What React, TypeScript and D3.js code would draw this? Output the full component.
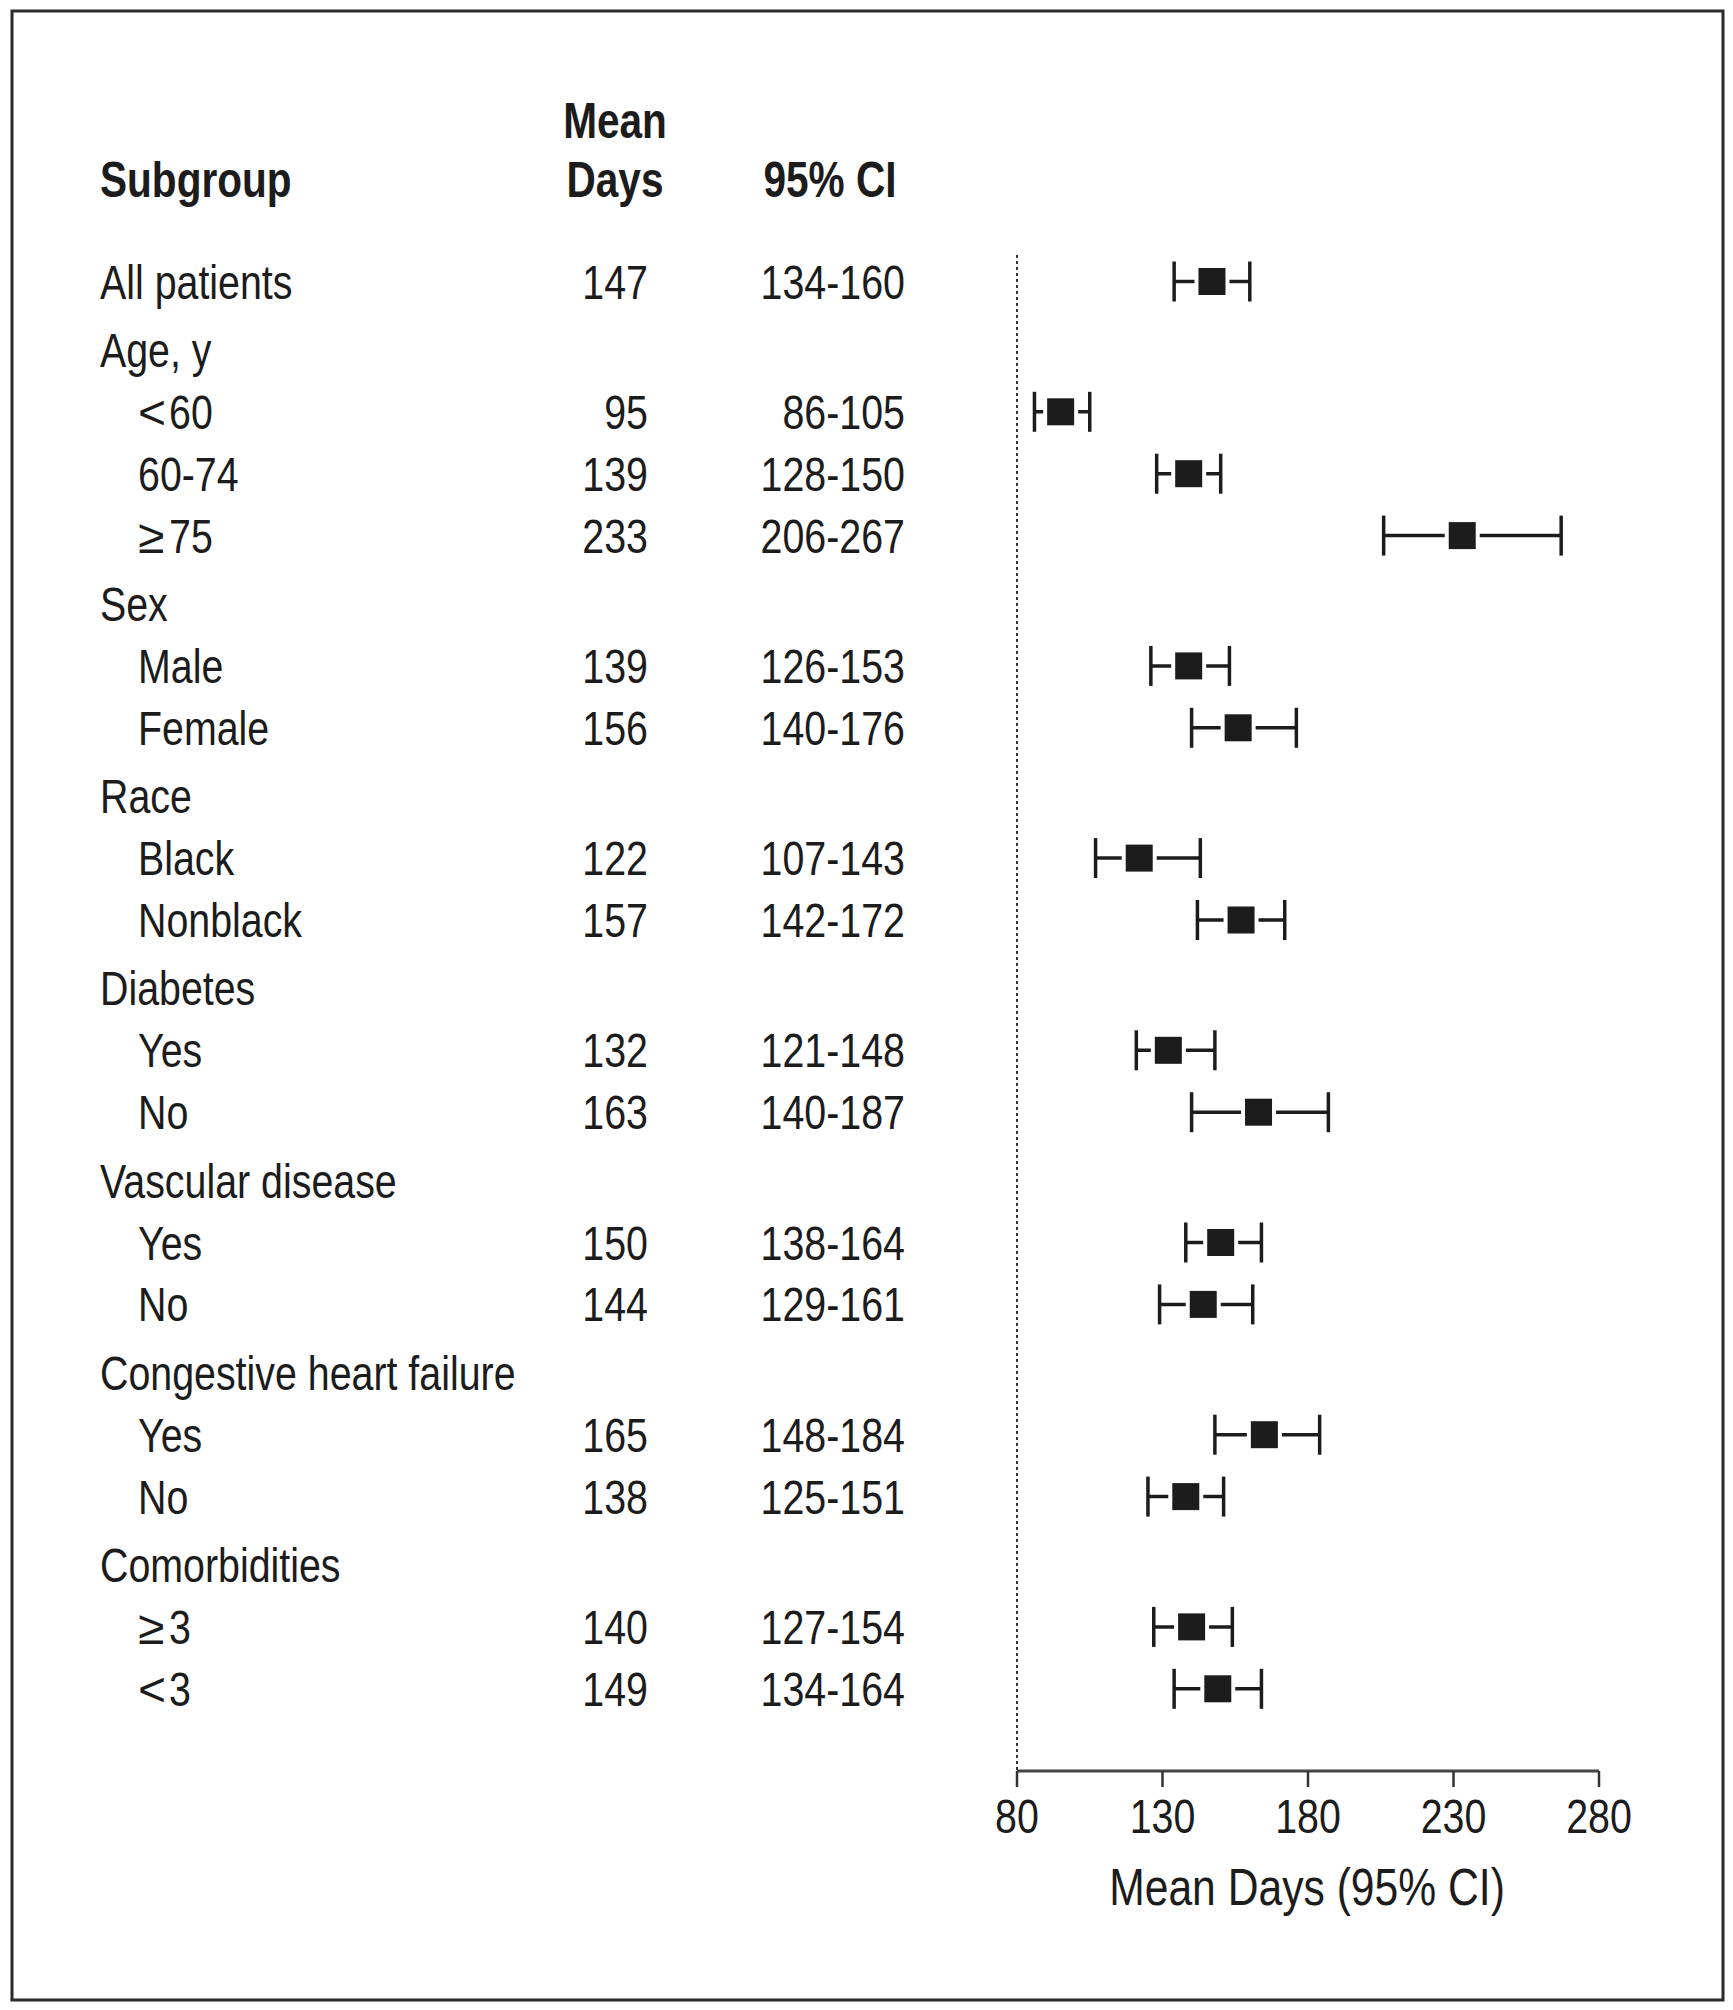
import React from "react";
import * as d3 from "d3";

const labels = ["All patients", "Age, y", "<60", "60-74", "≥75", "Sex", "Male", "Female", "Race", "Black", "Nonblack", "Diabetes", "Yes", "No", "Vascular disease", "Yes", "No", "Congestive heart failure", "Yes", "No", "Comorbidities", "≥3", "<3"];
const means: (number | null)[] = [147, null, 95, 139, 233, null, 139, 156, null, 122, 157, null, 132, 163, null, 150, 144, null, 165, 138, null, 140, 149];
const lower: (number | null)[] = [134, null, 86, 128, 206, null, 126, 140, null, 107, 142, null, 121, 140, null, 138, 129, null, 148, 125, null, 127, 134];
const upper: (number | null)[] = [160, null, 105, 150, 267, null, 153, 176, null, 143, 172, null, 148, 187, null, 164, 161, null, 184, 151, null, 154, 164];
const xTicks = [80, 130, 180, 230, 280];

const FONT = "'Liberation Sans', Arial, sans-serif";
const INK = "#1c1c1c";
const SX = 0.82;

function T(props: { x: number; y: number; size?: number; bold?: boolean; anchor?: string; sx?: number; children: React.ReactNode }) {
  const { x, y, size = 48, bold = false, anchor = "start", sx = SX, children } = props;
  return (
    <text
      transform={`translate(${x},${y}) scale(${sx},1)`}
      fontSize={size}
      fontWeight={bold ? "bold" : "normal"}
      textAnchor={anchor}
      fill={INK}
    >
      {children}
    </text>
  );
}

function Label(props: { x: number; y: number; text: string }) {
  const { x, y, text } = props;
  const c = text.charAt(0);
  if (c === "<" || c === "≥") {
    return (
      <g>
        <T x={x} y={y} sx={1}>{c}</T>
        <T x={x + 31} y={y}>{text.slice(1)}</T>
      </g>
    );
  }
  return <T x={x} y={y}>{text}</T>;
}

export default function App() {
  const W = 1733, H = 2010;
  const x = d3.scaleLinear().domain([80, 280]).range([1017, 1599]);

  const ys: number[] = [];
  let y = 281.5;
  labels.forEach((_, i) => {
    if (i > 0) y += means[i] === null ? 68.4 : 61.9;
    ys.push(y);
  });

  const axisY = 1771;

  return (
    <svg width={W} height={H} style={{ position: "absolute", left: 0, top: 0, background: "#fff" }} fontFamily={FONT}>
      <rect x={0} y={0} width={W} height={H} fill="#fff" />
      <rect x={12} y={11} width={1711} height={1989} fill="none" stroke="#2a2a2a" strokeWidth={3} />

      <T x={100} y={197} size={49.5} bold>Subgroup</T>
      <T x={615} y={138} size={49.5} bold anchor="middle">Mean</T>
      <T x={615} y={197} size={49.5} bold anchor="middle">Days</T>
      <T x={830} y={197} size={49.5} bold anchor="middle">95% CI</T>

      {labels.map((lab, i) => {
        const hasVal = means[i] !== null;
        const indent = hasVal && i > 0;
        return (
          <g key={i}>
            <Label x={indent ? 138 : 100} y={ys[i] + 17} text={lab} />
            {hasVal && (
              <>
                <T x={648} y={ys[i] + 17} anchor="end">{means[i]}</T>
                <T x={905} y={ys[i] + 17} anchor="end">{`${lower[i]}-${upper[i]}`}</T>
              </>
            )}
          </g>
        );
      })}

      <line x1={x(80)} x2={x(80)} y1={255} y2={axisY} stroke="#333" strokeWidth={2} strokeDasharray="3,3" />

      {labels.map((_, i) => {
        if (means[i] === null) return null;
        const cy = ys[i];
        const xl = x(lower[i] as number), xh = x(upper[i] as number), xm = x(means[i] as number);
        return (
          <g key={"m" + i}>
            <line x1={xl} x2={xh} y1={cy} y2={cy} stroke={INK} strokeWidth={3.5} />
            <line x1={xl} x2={xl} y1={cy - 20} y2={cy + 20} stroke={INK} strokeWidth={3.5} />
            <line x1={xh} x2={xh} y1={cy - 20} y2={cy + 20} stroke={INK} strokeWidth={3.5} />
            <rect x={xm - 17.5} y={cy - 17.5} width={35} height={35} fill="#fff" />
            <rect x={xm - 13.5} y={cy - 13.5} width={27} height={27} fill={INK} />
          </g>
        );
      })}

      <line x1={x(80)} x2={x(280)} y1={axisY} y2={axisY} stroke="#444" strokeWidth={3} />
      {xTicks.map((t) => (
        <g key={t}>
          <line x1={x(t)} x2={x(t)} y1={axisY} y2={axisY + 16} stroke="#333" strokeWidth={2.5} />
          <T x={x(t)} y={1833} anchor="middle">{t}</T>
        </g>
      ))}
      <T x={1307} y={1905} size={52} anchor="middle">Mean Days (95% CI)</T>
    </svg>
  );
}
